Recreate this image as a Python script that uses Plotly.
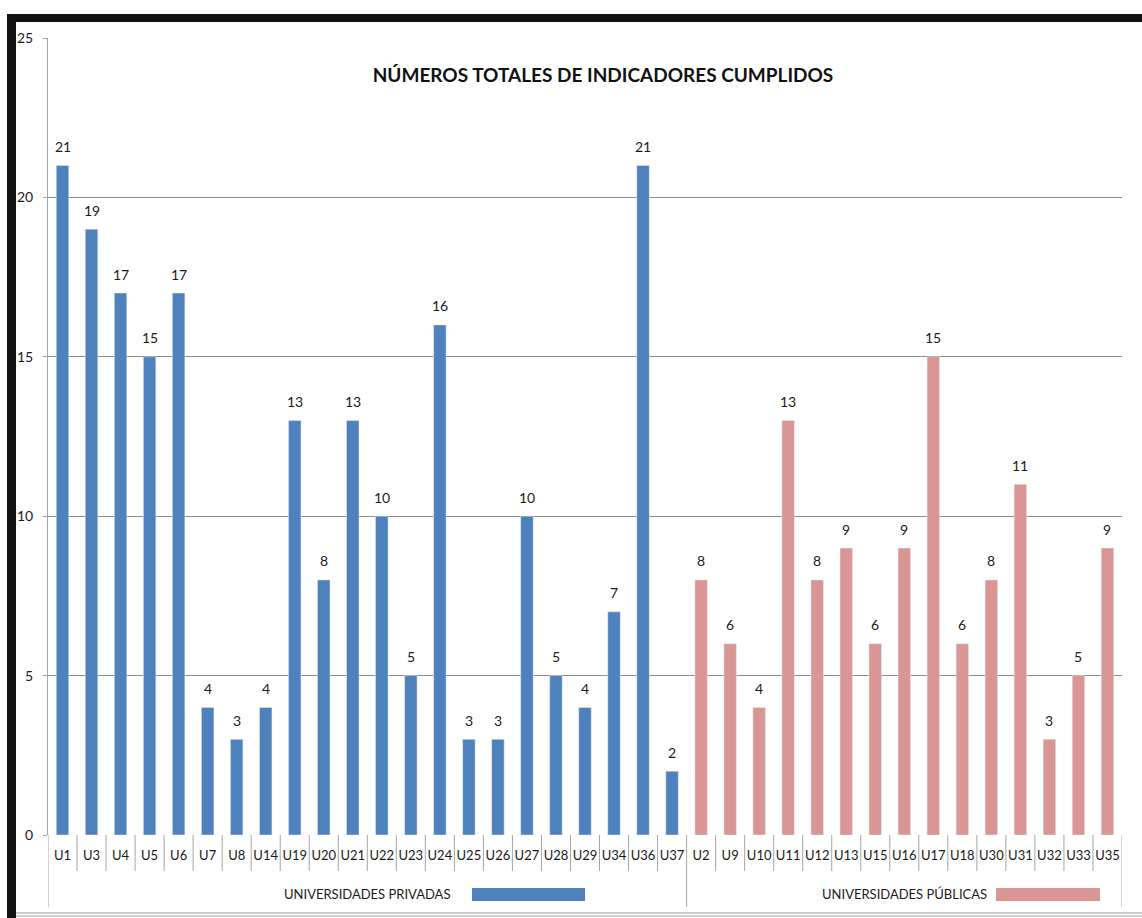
import plotly.graph_objects as go

# Indicator totals per university, split by sector
priv_cats = ["U1", "U3", "U4", "U5", "U6", "U7", "U8", "U14", "U19", "U20", "U21",
             "U22", "U23", "U24", "U25", "U26", "U27", "U28", "U29", "U34", "U36", "U37"]
priv_vals = [21, 19, 17, 15, 17, 4, 3, 4, 13, 8, 13, 10, 5, 16, 3, 3, 10, 5, 4, 7, 21, 2]

pub_cats = ["U2", "U9", "U10", "U11", "U12", "U13", "U15", "U16", "U17", "U18",
            "U30", "U31", "U32", "U33", "U35"]
pub_vals = [8, 6, 4, 13, 8, 9, 6, 9, 15, 6, 8, 11, 3, 5, 9]

group_names = ["UNIVERSIDADES PRIVADAS", "UNIVERSIDADES PÚBLICAS"]
y_ticks = [0, 5, 10, 15, 20, 25]

title_text = "NÚMEROS TOTALES DE INDICADORES CUMPLIDOS"

BLUE = "#4F81BD"
PINK = "#D99694"
GRID = "#8c8c8c"
AXIS = "#a6a6a6"
FONT = "Lato"

W, H = 1142, 918
L, R, T, B = 48, 20, 38, 83
plot_w, plot_h = W - L - R, H - T - B


def px_x(p):
    return (p - L) / plot_w


def px_y(p):
    return (H - B - p) / plot_h


all_cats = priv_cats + pub_cats

fig = go.Figure()
fig.add_trace(go.Bar(x=priv_cats, y=priv_vals, marker_color=BLUE, width=0.43,
                     name=group_names[0], showlegend=False))
fig.add_trace(go.Bar(x=pub_cats, y=pub_vals, marker_color=PINK, width=0.43,
                     name=group_names[1], showlegend=False))

annotations = []
# value labels above each bar
for cats, vals in ((priv_cats, priv_vals), (pub_cats, pub_vals)):
    for c, v in zip(cats, vals):
        annotations.append(dict(x=c, y=v, xref="x", yref="y", text=str(v),
                                showarrow=False, yanchor="middle", yshift=19,
                                font=dict(family=FONT, size=14, color="#1a1a1a")))

shapes = []
n = len(all_cats)
bounds = [0, len(priv_cats), n]
# category dividers below the axis
for i in range(n + 1):
    long = i in bounds
    shapes.append(dict(type="line", xref="x", yref="paper",
                       x0=i - 0.5, x1=i - 0.5, y0=0, y1=px_y(907 if long else 871),
                       line=dict(color=AXIS, width=1)))

# group labels with their colour keys
groups = [(0, len(priv_cats), BLUE, (472, 585)), (len(priv_cats), n, PINK, (996, 1100))]
for name, (a, b, col, (k0, k1)) in zip(group_names, groups):
    annotations.append(dict(x=(a + b - 1) / 2, y=px_y(894), xref="x", yref="paper",
                            text=name, showarrow=False, yanchor="middle",
                            font=dict(family=FONT, size=13, color="#1a1a1a")))
    shapes.append(dict(type="rect", xref="paper", yref="paper",
                       x0=px_x(k0), x1=px_x(k1), y0=px_y(901), y1=px_y(888),
                       fillcolor=col, line=dict(width=0)))

# outer frame: dark band left and top, thin double rule at the bottom
shapes.append(dict(type="rect", xref="paper", yref="paper",
                   x0=px_x(7), x1=px_x(16), y0=px_y(918), y1=px_y(14),
                   fillcolor="#111111", line=dict(width=0)))
shapes.append(dict(type="rect", xref="paper", yref="paper",
                   x0=px_x(7), x1=px_x(1142), y0=px_y(22), y1=px_y(14),
                   fillcolor="#111111", line=dict(width=0)))
for yy in (913, 916):
    shapes.append(dict(type="line", xref="paper", yref="paper",
                       x0=px_x(16), x1=px_x(1142), y0=px_y(yy), y1=px_y(yy),
                       line=dict(color="#9a9a9a", width=1)))

fig.update_layout(
    width=W, height=H,
    margin=dict(l=L, r=R, t=T, b=B),
    paper_bgcolor="white", plot_bgcolor="white",
    barmode="overlay",
    title=dict(text=f"<b>{title_text}</b>", x=603 / W, xanchor="center",
               y=1 - 75 / H, yanchor="middle",
               font=dict(family=FONT, size=19, color="#111111")),
    annotations=annotations,
    shapes=shapes,
    font=dict(family=FONT),
)

fig.update_xaxes(type="category", categoryorder="array", categoryarray=all_cats,
                 range=[-0.5, n - 0.5], showgrid=False, showline=False, ticks="",
                 tickfont=dict(family=FONT, size=13, color="#1a1a1a"),
                 ticklabelstandoff=11)
fig.update_yaxes(range=[0, 25], tickvals=y_ticks, showgrid=True, gridcolor=GRID,
                 gridwidth=1, showline=True, linecolor=AXIS, linewidth=1,
                 ticks="outside", ticklen=4, tickcolor=AXIS, zeroline=False,
                 tickfont=dict(family=FONT, size=14, color="#1a1a1a"),
                 ticklabelstandoff=7)

fig.write_html("out.html")
